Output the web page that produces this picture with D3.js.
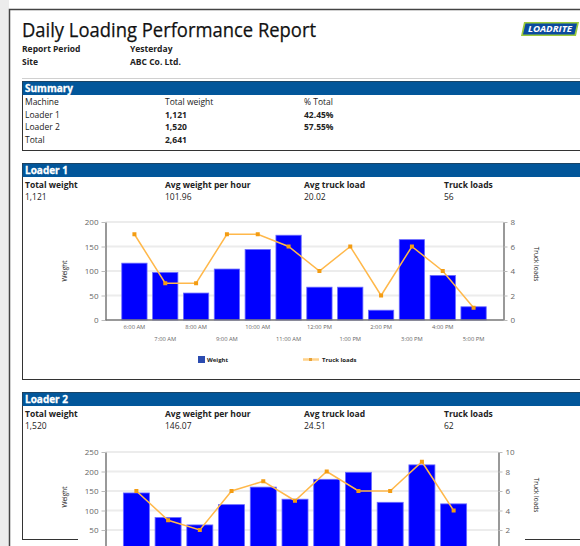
<!DOCTYPE html>
<html>
<head>
<meta charset="utf-8">
<script src="https://cdn.jsdelivr.net/npm/d3@7"></script>
<style>
  body { margin: 0; background: #fff; }
  svg { display: block; font-family: "Open Sans", "Noto Sans", sans-serif; }
</style>
</head>
<body>
<script>
// report header
const reportTitle = "Daily Loading Performance Report";
const metaLabels = ["Report Period", "Site"];
const metaValues = ["Yesterday", "ABC Co. Ltd."];

// summary table
const summaryCols = ["Machine", "Total weight", "% Total"];
const summaryMachines = ["Loader 1", "Loader 2", "Total"];
const summaryWeights = ["1,121", "1,520", "2,641"];
const summaryPct = ["42.45%", "57.55%", ""];

// per-loader stats
const statLabels = ["Total weight", "Avg weight per hour", "Avg truck load", "Truck loads"];
const loader1Stats = ["1,121", "101.96", "20.02", "56"];
const loader2Stats = ["1,520", "146.07", "24.51", "62"];

// loader 1 chart data
const hours1 = ["6:00 AM", "7:00 AM", "8:00 AM", "9:00 AM", "10:00 AM", "11:00 AM",
                "12:00 PM", "1:00 PM", "2:00 PM", "3:00 PM", "4:00 PM", "5:00 PM"];
const weight1 = [116, 97, 55, 104, 144, 173, 67, 67, 20, 164, 91, 27];
const trucks1 = [7, 3, 3, 7, 7, 6, 4, 6, 2, 6, 4, 1];

// loader 2 chart data
const hours2 = ["6:00 AM", "7:00 AM", "8:00 AM", "9:00 AM", "10:00 AM", "11:00 AM",
                "12:00 PM", "1:00 PM", "2:00 PM", "3:00 PM", "4:00 PM"];
const weight2 = [145, 82, 63, 115, 160, 129, 180, 198, 121, 217, 117];
const trucks2 = [6, 3, 2, 6, 7, 5, 8, 6, 6, 9, 4];

const W = 580, H = 546;
const BLUE_HEAD = "#02569a";
const BORDER = "#333";

let svg = d3.select("body").append("svg")
    .attr("width", W)
    .attr("height", H);

// grey page margin at left
svg.append("rect")
    .attr("x", 0).attr("y", 0)
    .attr("width", 9).attr("height", H)
    .attr("fill", "#ececec");

// outer document frame
svg.append("path")
    .attr("d", "M9.5," + H + "V9.5H" + W)
    .attr("fill", "none")
    .attr("stroke", "#444")
    .attr("stroke-width", 1.5);

// title
svg.append("text")
    .attr("x", 22).attr("y", 37)
    .attr("font-size", 20)
    .attr("fill", "#111")
    .attr("stroke", "#111").attr("stroke-width", 0.25)
    .attr("textLength", 294)
    .attr("lengthAdjust", "spacingAndGlyphs")
    .text(reportTitle);

metaLabels.forEach(function(d, i) {
    svg.append("text")
        .attr("x", 22).attr("y", 52 + i * 13)
        .attr("font-size", 8.5).attr("font-weight", "bold").attr("fill", "#222")
        .text(d);
    svg.append("text")
        .attr("x", 130).attr("y", 52 + i * 13)
        .attr("font-size", 8.5).attr("font-weight", "bold").attr("fill", "#222")
        .text(metaValues[i]);
});

svg.append("line")
    .attr("x1", 22).attr("x2", W)
    .attr("y1", 78.5).attr("y2", 78.5)
    .attr("stroke", "#d0d0d0");

// logo
let logo = svg.append("g").attr("transform", "translate(521,22)");
logo.append("polygon")
    .attr("points", "3,0 58,0 55,14 0,14")
    .attr("fill", "#9ccb3b");
logo.append("polygon")
    .attr("points", "4.5,1.5 56,1.5 53.5,12.5 2,12.5")
    .attr("fill", "#0b4a9e");
logo.append("text")
    .attr("x", 29).attr("y", 10.3)
    .attr("text-anchor", "middle")
    .attr("font-size", 8).attr("font-weight", "bold").attr("font-style", "italic")
    .attr("fill", "#fff")
    .attr("textLength", 44)
    .attr("lengthAdjust", "spacingAndGlyphs")
    .text("LOADRITE");

// a section box with blue heading
function sectionBox(y0, y1, title) {
    svg.append("rect")
        .attr("x", 22.5).attr("y", y0)
        .attr("width", W).attr("height", y1 - y0)
        .attr("fill", "#fff")
        .attr("stroke", BORDER);
    svg.append("rect")
        .attr("x", 22.5).attr("y", y0)
        .attr("width", W).attr("height", 13.5)
        .attr("fill", BLUE_HEAD);
    svg.append("text")
        .attr("x", 25).attr("y", y0 + 10.5)
        .attr("font-size", 10).attr("font-weight", "bold").attr("fill", "#fff")
        .attr("stroke", "#fff").attr("stroke-width", 0.3)
        .text(title);
}

/*** summary ***/
sectionBox(81.5, 150.5, "Summary");
let colX = [25, 165, 304, 444];
summaryCols.forEach(function(d, i) {
    svg.append("text")
        .attr("x", colX[i]).attr("y", 105)
        .attr("font-size", 8.5).attr("fill", "#222")
        .text(d);
});
summaryMachines.forEach(function(d, i) {
    let y = 117.5 + i * 12.5;
    svg.append("text").attr("x", colX[0]).attr("y", y)
        .attr("font-size", 8.5).attr("fill", "#222").text(d);
    svg.append("text").attr("x", colX[1]).attr("y", y)
        .attr("font-size", 8.5).attr("font-weight", "bold").attr("fill", "#222").text(summaryWeights[i]);
    svg.append("text").attr("x", colX[2]).attr("y", y)
        .attr("font-size", 8.5).attr("font-weight", "bold").attr("fill", "#222").text(summaryPct[i]);
});

// stats rows under a loader heading
function statsRows(y0, vals) {
    statLabels.forEach(function(d, i) {
        svg.append("text").attr("x", colX[i]).attr("y", y0)
            .attr("font-size", 8.5).attr("font-weight", "bold").attr("fill", "#222").text(d);
        svg.append("text").attr("x", colX[i]).attr("y", y0 + 12.5)
            .attr("font-size", 8.5).attr("fill", "#222").text(vals[i]);
    });
}

/*** loader chart ***/
function drawChart(o) {
    let g = svg.append("g");

    // white chart image background
    g.append("rect")
        .attr("x", 78).attr("y", o.bgTop)
        .attr("width", 447).attr("height", o.bgBottom - o.bgTop)
        .attr("fill", "#fff");

    let xScale = d3.scaleBand()
        .domain(o.hours)
        .range(o.xRange)
        .paddingInner(0.18)
        .paddingOuter(0.09);
    let yScale = d3.scaleLinear().domain([0, o.yMax]).range([o.y0, o.yTop]);
    let rScale = d3.scaleLinear().domain([0, o.rMax]).range([o.y0, o.yTop]);

    // gridlines
    g.append("g")
        .selectAll("line")
        .data(yScale.ticks(o.yMax / 50).filter(function(d) { return d > 0; }))
        .enter().append("line")
            .attr("x1", o.axisL).attr("x2", o.axisR)
            .attr("y1", function(d) { return yScale(d); })
            .attr("y2", function(d) { return yScale(d); })
            .attr("stroke", "#ececec")
            .attr("stroke-width", 2);

    // bars
    g.selectAll(".bar")
        .data(o.weight)
        .enter().append("rect")
            .attr("x", function(d, i) { return xScale(o.hours[i]); })
            .attr("y", function(d) { return yScale(d); })
            .attr("width", xScale.bandwidth())
            .attr("height", function(d) { return o.y0 - yScale(d); })
            .attr("fill", "#0000ff")
            .attr("stroke", "#6b6bff")
            .attr("stroke-width", 0.8);

    // truck loads line
    let line = d3.line()
        .x(function(d, i) { return xScale(o.hours[i]) + xScale.bandwidth() / 2; })
        .y(function(d) { return rScale(d); });
    g.append("path")
        .datum(o.trucks)
        .attr("d", line)
        .attr("fill", "none")
        .attr("stroke", "#ffb84a")
        .attr("stroke-width", 1.5);
    g.selectAll(".pt")
        .data(o.trucks)
        .enter().append("rect")
            .attr("x", function(d, i) { return xScale(o.hours[i]) + xScale.bandwidth() / 2 - 2; })
            .attr("y", function(d) { return rScale(d) - 2; })
            .attr("width", 4).attr("height", 4)
            .attr("fill", "#f39c12");

    // axes (labels that fall past the page bottom are left out)
    let left = g.append("g")
        .attr("transform", "translate(" + o.axisL + ",0)")
        .call(d3.axisLeft(yScale).ticks(o.yMax / 50).tickSize(4).tickSizeOuter(0));
    let right = g.append("g")
        .attr("transform", "translate(" + o.axisR + ",0)")
        .call(d3.axisRight(rScale).ticks(o.rMax / 2).tickSize(4).tickSizeOuter(0));
    [left, right].forEach(function(a) {
        a.select(".domain").attr("stroke", "#777").attr("stroke-width", 1.5);
        a.selectAll(".tick line").attr("stroke", "#bbb");
        a.selectAll(".tick text")
            .attr("font-size", 8)
            .attr("fill", "#666")
            .attr("font-family", "'Open Sans', sans-serif");
    });
    left.selectAll(".tick").filter(function(d) { return yScale(d) + 4 > H; }).remove();
    right.selectAll(".tick").filter(function(d) { return rScale(d) + 4 > H; }).remove();

    if (o.y0 > H) return;

    // x axis line
    g.append("line")
        .attr("x1", o.axisL).attr("x2", o.axisR)
        .attr("y1", o.y0).attr("y2", o.y0)
        .attr("stroke", "#777").attr("stroke-width", 1.5);

    // staggered hour labels
    g.selectAll(".xl")
        .data(o.hours)
        .enter().append("text")
            .attr("x", function(d) { return xScale(d) + xScale.bandwidth() / 2; })
            .attr("y", function(d, i) { return o.y0 + (i % 2 === 0 ? 8.5 : 20.5); })
            .attr("text-anchor", "middle")
            .attr("font-size", 5.8)
            .attr("fill", "#666")
            .text(function(d) { return d; });

    // legend
    let ly = o.y0 + 39.5;
    g.append("rect")
        .attr("x", 198).attr("y", ly - 3.5)
        .attr("width", 7).attr("height", 7)
        .attr("fill", "#2b4bb0");
    g.append("text")
        .attr("x", 207).attr("y", ly + 2.5)
        .attr("font-size", 6).attr("font-weight", "bold").attr("fill", "#222")
        .text("Weight");
    g.append("line")
        .attr("x1", 303).attr("x2", 319)
        .attr("y1", ly).attr("y2", ly)
        .attr("stroke", "#ffd28a").attr("stroke-width", 2.5);
    g.append("rect")
        .attr("x", 309).attr("y", ly - 1.5)
        .attr("width", 3).attr("height", 3)
        .attr("fill", "#e8a33a");
    g.append("text")
        .attr("x", 322).attr("y", ly + 2.5)
        .attr("font-size", 6).attr("font-weight", "bold").attr("fill", "#222")
        .text("Truck loads");
}

// axis titles, placed by the plot middle
function axisTitles(yMid, rMid) {
    svg.append("text")
        .attr("transform", "translate(67," + yMid + ") rotate(-90)")
        .attr("text-anchor", "middle")
        .attr("font-size", 6.5).attr("fill", "#222")
        .text("Weight");
    svg.append("text")
        .attr("transform", "translate(534," + rMid + ") rotate(90)")
        .attr("text-anchor", "middle")
        .attr("font-size", 6.5).attr("fill", "#222")
        .text("Truck loads");
}

/*** loader 1 ***/
sectionBox(163.5, 379.5, "Loader 1");
statsRows(187.5, loader1Stats);
drawChart({
    hours: hours1, weight: weight1, trucks: trucks1,
    yMax: 200, rMax: 8,
    xRange: [119, 489], axisL: 105.5, axisR: 503.5,
    y0: 320, yTop: 222,
    bgTop: 206, bgBottom: 376
});
axisTitles(271, 264);

/*** loader 2 ***/
sectionBox(392.5, 539.5, "Loader 2");
statsRows(416.5, loader2Stats);
drawChart({
    hours: hours2, weight: weight2, trucks: trucks2,
    yMax: 250, rMax: 10,
    xRange: [120.5, 469.5], axisL: 105.5, axisR: 498.5,
    y0: 549.5, yTop: 452,
    bgTop: 436, bgBottom: H
});
axisTitles(497, 495);
</script>
</body>
</html>
